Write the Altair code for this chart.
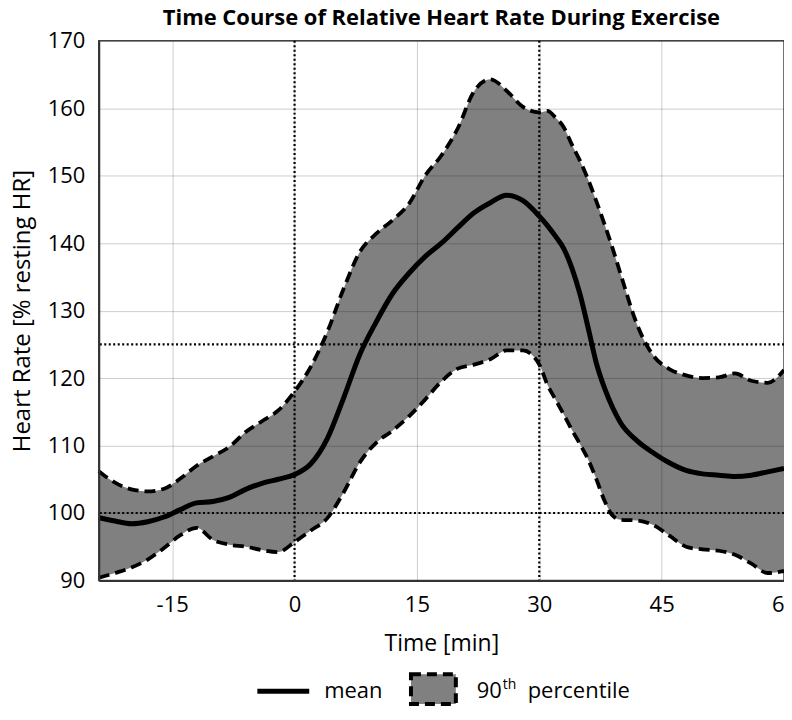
import altair as alt
import pandas as pd

# ---- data ----
time_min = [-24, -22, -20, -18, -16, -14, -12, -10, -8, -6, -4, -2, 0, 2, 4, 6, 8, 10,
            12, 14, 16, 18, 20, 22, 24, 26, 28, 30, 31, 32, 33, 34, 35, 36, 37, 38, 39,
            40, 42, 44, 46, 48, 50, 52, 54, 56, 58, 60]
mean_hr = [99.3, 98.8, 98.4, 98.7, 99.4, 100.5, 101.5, 101.7, 102.3, 103.5, 104.4, 105.0,
           105.7, 107.3, 111.0, 117.0, 123.5, 128.3, 132.5, 135.5, 138.0, 140.0, 142.3,
           144.5, 146.0, 147.1, 146.3, 144.0, 142.6, 141.0, 139.2, 136.3, 132.4, 127.4,
           122.2, 118.5, 115.6, 113.3, 110.7, 108.9, 107.4, 106.3, 105.8, 105.6, 105.4,
           105.6, 106.1, 106.6]
upper_hr = [106.2, 104.5, 103.5, 103.2, 103.6, 105.1, 107.0, 108.4, 109.8, 112.0, 113.6,
            115.2, 118.0, 121.7, 126.8, 133.2, 138.7, 141.4, 143.4, 145.8, 150.0, 153.0,
            157.0, 162.5, 164.3, 162.6, 160.2, 159.4, 159.6, 158.6, 157.2, 154.6, 152.2,
            149.4, 146.2, 142.8, 139.2, 135.3, 127.9, 123.3, 121.3, 120.4, 120.0, 120.1,
            120.7, 119.6, 119.3, 121.2]
lower_hr = [90.4, 91.1, 91.9, 93.1, 94.8, 96.7, 97.8, 96.0, 95.3, 95.0, 94.5, 94.2, 95.7,
            97.4, 99.2, 103.0, 107.5, 110.4, 112.2, 114.3, 116.8, 119.5, 121.4, 122.0,
            122.8, 124.1, 124.1, 122.0, 119.0, 116.8, 114.6, 112.3, 110.2, 107.9, 105.0,
            101.8, 99.6, 99.0, 98.9, 98.2, 96.6, 95.0, 94.6, 94.4, 93.8, 92.5, 91.1, 91.4]

ref_times = [0, 30]
ref_hr = [100, 125]

x_ticks = [-15, 0, 15, 30, 45, 60]
y_ticks = [90, 100, 110, 120, 130, 140, 150, 160, 170]

legend_labels = ["mean", "90", "th", "percentile"]

df = pd.DataFrame({"time": time_min, "mean": mean_hr, "upper": upper_hr, "lower": lower_hr})
ref_x_df = pd.DataFrame({"t": ref_times})
ref_y_df = pd.DataFrame({"hr": ref_hr})

FONT = "Open Sans"
BAND_GRAY = "#808080"

x_scale = alt.Scale(domain=[-24, 60], nice=False, zero=False)
y_scale = alt.Scale(domain=[90, 170], nice=False, zero=False)

x_axis = alt.Axis(values=x_ticks, title="Time [min]", grid=True, ticks=False,
                  labelFontSize=22, titleFontSize=23, titleFontWeight="normal",
                  labelPadding=14, titlePadding=17, labelFlush=False,
                  labelExpr="'' + datum.value + '\u00a0\u00a0'", zindex=1)
y_axis = alt.Axis(values=y_ticks, title="Heart Rate [% resting HR]", grid=True, ticks=False,
                  labelFontSize=22, titleFontSize=24, titleFontWeight="normal",
                  labelPadding=14, titlePadding=13, zindex=1)

base = alt.Chart(df)

band = base.mark_area(interpolate="monotone", color=BAND_GRAY, opacity=1).encode(
    x=alt.X("time:Q", scale=x_scale, axis=x_axis),
    y=alt.Y("upper:Q", scale=y_scale, axis=y_axis),
    y2="lower:Q",
)

vlines = alt.Chart(ref_x_df).mark_rule(color="black", strokeWidth=2.2, strokeDash=[2, 2.5]).encode(
    x=alt.X("t:Q", scale=x_scale)
)
hlines = alt.Chart(ref_y_df).mark_rule(color="black", strokeWidth=2.2, strokeDash=[2, 2.5]).encode(
    y=alt.Y("hr:Q", scale=y_scale)
)

upper_line = base.mark_line(interpolate="monotone", color="black", strokeWidth=3.8,
                            strokeDash=[11, 6]).encode(
    x=alt.X("time:Q", scale=x_scale), y=alt.Y("upper:Q", scale=y_scale))
lower_line = base.mark_line(interpolate="monotone", color="black", strokeWidth=3.8,
                            strokeDash=[11, 6]).encode(
    x=alt.X("time:Q", scale=x_scale), y=alt.Y("lower:Q", scale=y_scale))

mean_line = base.mark_line(interpolate="monotone", color="black", strokeWidth=5).encode(
    x=alt.X("time:Q", scale=x_scale), y=alt.Y("mean:Q", scale=y_scale))

# ---- legend (below the x-axis title) ----
def label_df(i):
    return pd.DataFrame({"label": [legend_labels[i]]})

leg_line = alt.Chart(label_df(0)).mark_rule(color="black", strokeWidth=5).encode(
    x=alt.value(159), x2=alt.value(211), y=alt.value(652))
leg_mean = alt.Chart(label_df(0)).mark_text(align="left", baseline="alphabetic",
                                            fontSize=22, font=FONT, color="black").encode(
    x=alt.value(226), y=alt.value(659), text="label:N")
leg_box = alt.Chart(label_df(1)).mark_rect(fill=BAND_GRAY, stroke="black", strokeWidth=4,
                                           strokeDash=[10, 6]).encode(
    x=alt.value(313), x2=alt.value(358), y=alt.value(635), y2=alt.value(665))
leg_90 = alt.Chart(label_df(1)).mark_text(align="left", baseline="alphabetic",
                                          fontSize=22, font=FONT, color="black").encode(
    x=alt.value(379), y=alt.value(659), text="label:N")
leg_th = alt.Chart(label_df(2)).mark_text(align="left", baseline="alphabetic",
                                          fontSize=14, font=FONT, color="black").encode(
    x=alt.value(405), y=alt.value(650), text="label:N")
leg_pct = alt.Chart(label_df(3)).mark_text(align="left", baseline="alphabetic",
                                           fontSize=22, font=FONT, color="black").encode(
    x=alt.value(430), y=alt.value(659), text="label:N")

chart = alt.layer(band, vlines, hlines, upper_line, lower_line, mean_line,
                  leg_line, leg_mean, leg_box, leg_90, leg_th, leg_pct).properties(
    width=687,
    height=541,
    title=alt.TitleParams("Time Course of Relative Heart Rate During Exercise",
                          fontSize=22, fontWeight="bold", font=FONT, anchor="middle",
                          offset=0, color="black"),
    autosize=alt.AutoSizeParams(type="none"),
    padding={"left": 91, "top": 32, "right": 0, "bottom": 125},
).configure(
    font=FONT,
).configure_axis(
    labelFont=FONT, titleFont=FONT, labelColor="black", titleColor="black",
    gridColor="black", gridOpacity=0.2, gridWidth=1,
    domainColor="#333333", domainWidth=2,
).configure_view(
    stroke="#444444", strokeWidth=1.5,
)

chart.save("out.html", embed_options={"renderer": "svg", "actions": False})
